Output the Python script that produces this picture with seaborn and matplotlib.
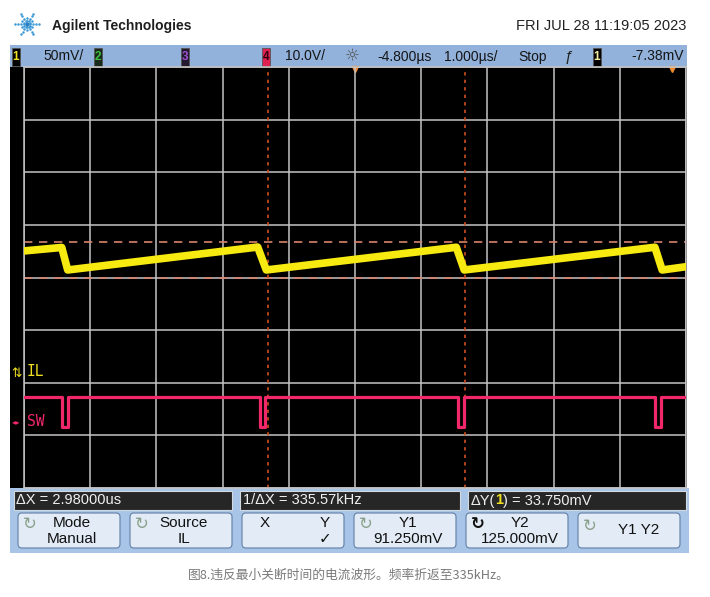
import numpy as np
import pandas as pd
import seaborn as sns
import matplotlib.pyplot as plt
from matplotlib.patches import Rectangle, FancyBboxPatch

plt.rcParams['font.family'] = ['Liberation Sans', 'DejaVu Sans']

# channel 1 (IL) trace, time in us, value in mV
il_t = [-9.8, -9.23, -9.14, -6.27, -6.14, -3.27, -3.15, -0.27, -0.16, 0.2]
il_mv = [116.5, 119.8, 98.4, 120.2, 98.4, 120.0, 98.4, 120.0, 98.4, 101.5]

# channel 4 (SW) trace, time in us, value in V
sw_t = [-9.8, -9.23, -9.23, -9.14, -9.14, -6.24, -6.24, -6.16, -6.16,
        -3.24, -3.24, -3.15, -3.15, -0.27, -0.27, -0.18, -0.18, 0.2]
sw_v = [4.8, 4.8, -1.0, -1.0, 4.8, 4.8, -1.0, -1.0, 4.8,
        4.8, -1.0, -1.0, 4.8, 4.8, -1.0, -1.0, 4.8, 4.8]

# cursors
x_cursors = [-6.12, -3.14]
y_cursors = [91.25, 125.0]

# scope settings
ch1_scale = 50.0    # mV/div
ch4_scale = 10.0    # V/div
t_left, t_right = -9.8, 0.2
ch1_low = -108.75
ch4_low = -12.55

top_bar = [("50mV/", 43), ("10.0V/", 285), ("-4.800µs", 377), ("1.000µs/", 444),
           ("Stop", 518), ("-7.38mV", 631)]
meas = ["ΔX = 2.98000us", "1/ΔX = 335.57kHz"]
buttons = [("Mode", "Manual"), ("Source", "IL"), ("", ""), ("Y1", "91.250mV"),
           ("Y2", "125.000mV"), ("Y1 Y2", "")]
caption = "图8.违反最小关断时间的电流波形。频率折返至335kHz。"

W, H = 710, 597
fig = plt.figure(figsize=(W / 100, H / 100), dpi=100)
fig.patch.set_facecolor('white')

# background axes in pixel coords
bg = fig.add_axes([0, 0, 1, 1])
bg.set_xlim(0, W)
bg.set_ylim(H, 0)
bg.axis('off')

def ptext(x, y, s, **kw):
    kw.setdefault('va', 'center')
    return fig.text(x / W, 1 - y / H, s, **kw)

# header logo (spark)
cx, cy = 27, 24
for i, a in enumerate(np.deg2rad(np.arange(0, 360, 30))):
    rr = [3, 6, 9, 12] if i % 2 == 0 else [3, 6]
    bg.plot([cx + r * np.cos(a) for r in rr], [cy + r * np.sin(a) for r in rr],
            ls='none', marker='o', ms=1.8, color='#3a9ad6', mec='none')
bg.plot([cx], [cy], marker='o', ms=3, color='#2a7fc0', mec='none')
ptext(52, 26, "Agilent Technologies", fontsize=10, fontweight='bold', color='#1e1e1e')
ptext(686, 26, "FRI JUL 28 11:19:05 2023", fontsize=10.5, color='#222', ha='right')

# top status bar
bg.add_patch(Rectangle((10, 45), 677, 22, fc='#92b2dc', ec='none'))
for x0, d, fc, tc in [(12, "1", 'black', '#f0e020'), (94, "2", '#1a2a1a', '#40c040'),
                      (181, "3", '#241a30', '#a050d0'), (262, "4", '#e02050', '#300010'),
                      (593, "1", 'black', '#f6f0a0')]:
    bg.add_patch(Rectangle((x0, 47.5), 8, 18, fc=fc, ec='#555', lw=0.6))
    ptext(x0 + 4, 56.5, d, fontsize=8.5, fontweight='bold', color=tc, ha='center')
for s, x0 in top_bar:
    ptext(x0, 56.5, s, fontsize=10, color='#151515')
ptext(352, 56, "☼", fontsize=12, color='#555', ha='center', family='DejaVu Sans')
ptext(569, 56.5, "ƒ", fontsize=11, color='#222', ha='center')
bg.plot([672, 355], [68.5, 68.5], ls='none', marker='v', ms=5, color='#f08a30', zorder=5)

# black screen
bg.add_patch(Rectangle((10, 67), 677, 421, fc='black', ec='none'))

# bottom panel
bg.add_patch(Rectangle((10, 488), 679, 65, fc='#a8c4e6', ec='none'))
for x0, x1 in [(14, 232), (240, 460), (468, 686)]:
    bg.add_patch(Rectangle((x0, 491), x1 - x0, 19, fc='#262626', ec='#d0d8e0', lw=0.8))
ptext(16, 500.5, meas[0], fontsize=10.5, color='#f0f0f0')
ptext(243, 500.5, meas[1], fontsize=10.5, color='#f0f0f0')
t_prev = ptext(471, 500.5, "ΔY(", fontsize=10.5, color='#f0f0f0')
t_prev = bg.annotate("1", xy=(1, 0.5), xycoords=t_prev, va='center', ha='left',
                     fontsize=10.5, color='#f0e020', fontweight='bold')
bg.annotate(") = 33.750mV", xy=(1, 0.5), xycoords=t_prev, va='center', ha='left',
            fontsize=10.5, color='#f0f0f0')

for i, (l1, l2) in enumerate(buttons):
    x0 = 18 + 112 * i
    bg.add_patch(FancyBboxPatch((x0, 513), 102, 35, boxstyle='round,pad=0,rounding_size=4',
                                fc='#e3ecf6', ec='#6a88ad', lw=0.9))
    xc = x0 + 51
    if i == 2:
        ptext(x0 + 23, 523, "X", fontsize=11, color='#111', ha='center')
        ptext(x0 + 83, 523, "Y", fontsize=11, color='#111', ha='center')
        ptext(x0 + 83, 539, "✓", fontsize=11, color='#111', ha='center', family='DejaVu Sans')
        continue
    bold = i == 4
    ptext(x0 + 12, 524 if l2 else 526, "↻", fontsize=12, ha='center', family='DejaVu Sans',
          color='#111' if bold else '#8aa08a', fontweight='bold' if bold else 'normal')
    if l2:
        ptext(xc + 3, 523, l1, fontsize=11, color='#111', ha='center')
        ptext(xc + 3, 539, l2, fontsize=11, color='#111', ha='center')
    else:
        ptext(xc + 10, 530, l1, fontsize=11, color='#111', ha='center')

ptext(349, 575, caption, fontsize=9.2, color='#7a7a7a', ha='center',
      family=['Noto Sans CJK SC', 'DejaVu Sans'])

# scope graticule axes
ax = fig.add_axes([24 / W, 1 - 488 / H, (686 - 24) / W, (488 - 67) / H])
ax.set_facecolor('none')
ax.set_xlim(t_left, t_right)
ax.set_ylim(ch1_low, ch1_low + 8 * ch1_scale)
ax.set_xticks(np.linspace(t_left, t_right, 11))
ax.set_yticks(np.linspace(ch1_low, ch1_low + 8 * ch1_scale, 9))
ax.tick_params(length=0, labelbottom=False, labelleft=False)
ax.grid(True, color='#c4c4c4', lw=1.1)
for sp in ax.spines.values():
    sp.set_color('#c4c4c4')
    sp.set_linewidth(1.1)

for yc in y_cursors:
    ax.axhline(yc, color='#d8836c', ls=(0, (5, 4)), lw=1.2, zorder=2)
for xc in x_cursors:
    ax.axvline(xc, color='#d0501e', ls=(0, (2, 2.5)), lw=1.2, zorder=2)

df1 = pd.DataFrame({'t': il_t, 'mv': il_mv})
sns.lineplot(data=df1, x='t', y='mv', ax=ax, color='#f7ea10', lw=5.5,
             sort=False, estimator=None, zorder=3)
ax.set_xlabel('')
ax.set_ylabel('')

ax4 = ax.twinx()
ax4.set_ylim(ch4_low, ch4_low + 8 * ch4_scale)
df4 = pd.DataFrame({'t': sw_t, 'v': sw_v})
sns.lineplot(data=df4, x='t', y='v', ax=ax4, color='#f0286a', lw=2.3,
             sort=False, estimator=None)
ax4.set_xlabel('')
ax4.set_ylabel('')
ax4.set_yticks([])
for sp in ax4.spines.values():
    sp.set_visible(False)

# ground markers and labels
ptext(17, 373.5, "⇅", fontsize=9, color='#f0e020', ha='center', family='DejaVu Sans')
ptext(27, 372, "IL", fontsize=10.5, color='#f0e020', family='DejaVu Sans Mono')
ptext(16, 422, "◂▸", fontsize=6, color='#f0286a', ha='center', family='DejaVu Sans')
ptext(27, 421, "SW", fontsize=10.5, color='#f0286a', family='DejaVu Sans Mono')

fig.savefig('out.png', dpi=100)
